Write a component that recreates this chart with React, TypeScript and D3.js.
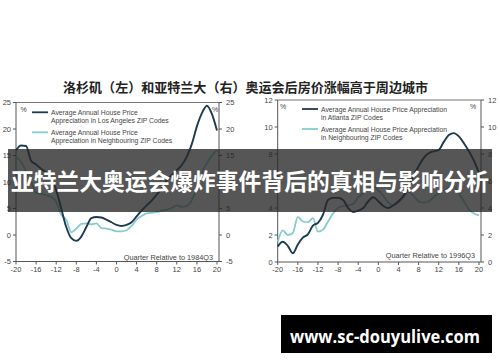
import React from "react";
import * as d3 from "d3";

// Quarters relative to the Olympic quarter
const QUARTERS = [
  -20, -19, -18, -17, -16, -15, -14, -13, -12, -11, -10, -9, -8, -7, -6, -5, -4, -3, -2, -1,
  0, 1, 2, 3, 4, 5, 6, 7, 8, 9, 10, 11, 12, 13, 14, 15, 16, 17, 18, 19, 20,
];

// Los Angeles (1984Q3 = 0), % annual house price appreciation
const LA_CITY = [
  16.0, 16.9, 16.8, 14.0, 13.3, 12.5, 11.8, 10.8, 8.5, 5.0, 1.5, -0.6, -1.1, -0.3, 1.5, 3.2, 3.4,
  3.3, 2.9, 2.4, 1.9, 1.7, 1.9, 2.4, 3.5, 4.6, 5.6, 6.5, 7.6, 8.8, 10.3, 11.3, 12.2, 13.2, 14.8,
  17.2, 20.5, 23.0, 24.4, 22.8, 19.7,
];
const LA_NEIGHBOURS = [
  14.8, 13.8, 12.0, 10.0, 8.0, 7.8, 7.5, 7.2, 6.3, 3.8, 2.9, 0.5, 1.2, 2.1, 2.2, 2.0, 2.2, 1.3,
  1.2, 1.0, 0.7, 0.7, 0.9, 1.7, 2.9, 3.6, 4.1, 4.2, 4.3, 4.6, 4.8, 5.1, 5.6, 5.3, 5.5, 6.6, 9.0,
  11.8, 13.6, 15.0, 16.0,
];

// Atlanta (1996Q3 = 0)
const ATL_CITY = [
  1.15, 1.5, 1.2, 0.65, 1.3, 1.8, 2.05, 2.7, 2.9, 3.5, 4.6, 4.75, 4.75, 4.6, 4.0, 3.7, 3.8, 4.0,
  4.5, 4.8, 4.5, 4.15, 4.0, 4.2, 4.5, 4.9, 5.5, 6.4, 7.1, 7.7, 8.05, 8.2, 8.3, 8.9, 9.4, 9.55,
  9.3, 8.8, 8.2, 7.5, 6.6,
];
const ATL_NEIGHBOURS = [
  1.5, 2.35, 2.0, 2.15, 3.35, 3.0, 2.95, 3.25, 2.25, 2.4, 3.0, 3.6, 4.0, 4.15, 4.2, 4.3, 4.8, 5.1,
  5.4, 5.6, 5.3, 4.9, 4.4, 4.2, 4.4, 4.8, 5.2, 4.9, 4.5, 4.4, 4.5, 4.8, 5.1, 5.3, 5.5, 5.6, 5.1,
  4.5, 3.9, 3.6, 3.45,
];

const X_TICKS = [-20, -16, -12, -8, -4, 0, 4, 8, 12, 16, 20];
const LA_Y_TICKS = [-5, 0, 5, 10, 15, 20, 25];
const ATL_Y_TICKS = [0, 2, 4, 6, 8, 10, 12];

const TITLE = "洛杉矶（左）和亚特兰大（右）奥运会后房价涨幅高于周边城市";
const BANNER = "亚特兰大奥运会爆炸事件背后的真相与影响分析";
const SITE = "www.sc-douyulive.com";

const LA_LEGEND = [
  ["Average Annual House Price", "Appreciation in Los Angeles ZIP Codes"],
  ["Average Annual House Price", "Appreciation in Neighbouring ZIP Codes"],
];
const ATL_LEGEND = [
  ["Average Annual House Price Appreciation", "in Atlanta ZIP Codes"],
  ["Average Annual House Price Appreciation", "in Neighbouring ZIP Codes"],
];
const LA_NOTE = "Quarter Relative to 1984Q3";
const ATL_NOTE = "Quarter Relative to 1996Q3";

const DARK = "#1d3a4f";
const LIGHT = "#86cbcd";
const AXIS = "#555";
const LABEL = "#444";
const SANS = "'Liberation Sans', Arial, sans-serif";
const CJK = "'Noto Sans CJK SC', sans-serif";

type PanelProps = {
  left: number;
  right: number;
  top: number;
  bottom: number;
  yDomain: [number, number];
  yTicks: number[];
  city: number[];
  neighbours: number[];
  legend: string[][];
  legendX: number;
  legendY: number;
  note: string;
  noteY: number;
  pctLeft: number;
  pctRight: number;
};

function Panel(p: PanelProps) {
  const x = d3.scaleLinear().domain([-20, 20.4]).range([p.left, p.right]);
  const y = d3.scaleLinear().domain(p.yDomain).range([p.bottom, p.top]);
  const line = d3
    .line<number>()
    .x((_, i) => x(QUARTERS[i]))
    .y((d) => y(d))
    .curve(d3.curveMonotoneX);

  return (
    <g>
      {/* frame */}
      <line x1={p.left} x2={p.right} y1={p.top} y2={p.top} stroke="#777" strokeWidth={1} />
      <line x1={p.left} x2={p.left} y1={p.top} y2={p.bottom} stroke={AXIS} strokeWidth={1} />
      <line x1={p.right} x2={p.right} y1={p.top} y2={p.bottom} stroke={AXIS} strokeWidth={1} />
      <line x1={p.left} x2={p.right} y1={p.bottom} y2={p.bottom} stroke={AXIS} strokeWidth={1} />

      {/* y ticks on both sides */}
      {p.yTicks.map((t) => (
        <g key={"y" + t}>
          <line x1={p.left - 3} x2={p.left} y1={y(t)} y2={y(t)} stroke={AXIS} />
          <line x1={p.right} x2={p.right + 3} y1={y(t)} y2={y(t)} stroke={AXIS} />
          <text x={p.left - 5} y={y(t) + 2.7} textAnchor="end" fontSize={7.5} fill={LABEL} fontFamily={SANS}>
            {t}
          </text>
          <text x={p.right + 7} y={y(t) + 2.7} textAnchor="start" fontSize={7.5} fill={LABEL} fontFamily={SANS}>
            {t}
          </text>
        </g>
      ))}

      {/* x ticks */}
      {X_TICKS.map((t) => (
        <g key={"x" + t}>
          <line x1={x(t)} x2={x(t)} y1={p.bottom} y2={p.bottom + 3} stroke={AXIS} />
          <text x={x(t)} y={p.bottom + 10} textAnchor="middle" fontSize={7.5} fill={LABEL} fontFamily={SANS}>
            {t}
          </text>
        </g>
      ))}

      <text x={p.pctLeft} y={p.top + 9} fontSize={7} fill={LABEL} fontFamily={SANS} textAnchor="middle">%</text>
      <text x={p.pctRight} y={p.top + 9} fontSize={7} fill={LABEL} fontFamily={SANS} textAnchor="middle">%</text>

      {/* legend */}
      {p.legend.map((rows, i) => {
        const ly = p.legendY + i * 20;
        return (
          <g key={"lg" + i}>
            <line
              x1={p.legendX}
              x2={p.legendX + 16}
              y1={ly}
              y2={ly}
              stroke={i === 0 ? DARK : LIGHT}
              strokeWidth={1.8}
            />
            {rows.map((r, j) => (
              <text
                key={j}
                x={p.legendX + 19}
                y={ly + 2.5 + j * 8}
                fontSize={6.8}
                fill={LABEL}
                fontFamily={SANS}
              >
                {r}
              </text>
            ))}
          </g>
        );
      })}

      <text x={p.right - 6} y={p.noteY} textAnchor="end" fontSize={7.3} fill={LABEL} fontFamily={SANS}>
        {p.note}
      </text>

      <path d={line(p.neighbours) ?? ""} fill="none" stroke={LIGHT} strokeWidth={1.8} />
      <path d={line(p.city) ?? ""} fill="none" stroke={DARK} strokeWidth={1.9} />
    </g>
  );
}

export default function App() {
  return (
    <svg
      width={500}
      height={362}
      viewBox="0 0 500 362"
      style={{ position: "absolute", left: 0, top: 0, background: "#fff" }}
    >
      <rect x={0} y={0} width={500} height={362} fill="#fff" />

      <text
        x={245.5}
        y={91.5}
        textAnchor="middle"
        fontSize={13}
        fontWeight={700}
        fill="#222"
        fontFamily={CJK}
        textLength={365}
        lengthAdjust="spacingAndGlyphs"
      >
        {TITLE}
      </text>

      <Panel
        left={16}
        right={219}
        top={102.5}
        bottom={261.5}
        yDomain={[-5, 25]}
        yTicks={LA_Y_TICKS}
        city={LA_CITY}
        neighbours={LA_NEIGHBOURS}
        legend={LA_LEGEND}
        legendX={32}
        legendY={112.3}
        note={LA_NOTE}
        noteY={259.5}
        pctLeft={23.5}
        pctRight={215}
      />
      <Panel
        left={277.7}
        right={481}
        top={100}
        bottom={262}
        yDomain={[0, 12]}
        yTicks={ATL_Y_TICKS}
        city={ATL_CITY}
        neighbours={ATL_NEIGHBOURS}
        legend={ATL_LEGEND}
        legendX={302}
        legendY={109}
        note={ATL_NOTE}
        noteY={257.5}
        pctLeft={283}
        pctRight={473}
      />

      {/* headline banner */}
      <rect x={8} y={149} width={484} height={63} fill="rgba(38,38,38,0.78)" />
      <text
        x={250}
        y={190}
        textAnchor="middle"
        fontSize={23}
        fontWeight={700}
        fill="#fff"
        fontFamily={CJK}
        textLength={478}
        lengthAdjust="spacingAndGlyphs"
      >
        {BANNER}
      </text>

      {/* site badge */}
      <rect x={281} y={315} width={211} height={38} fill="#000" />
      <text
        x={385}
        y={342.5}
        textAnchor="middle"
        fontSize={17}
        fontWeight={700}
        fill="#fff"
        fontFamily="'Open Sans', 'Noto Sans', sans-serif"
        textLength={190}
        lengthAdjust="spacingAndGlyphs"
      >
        {SITE}
      </text>
    </svg>
  );
}
